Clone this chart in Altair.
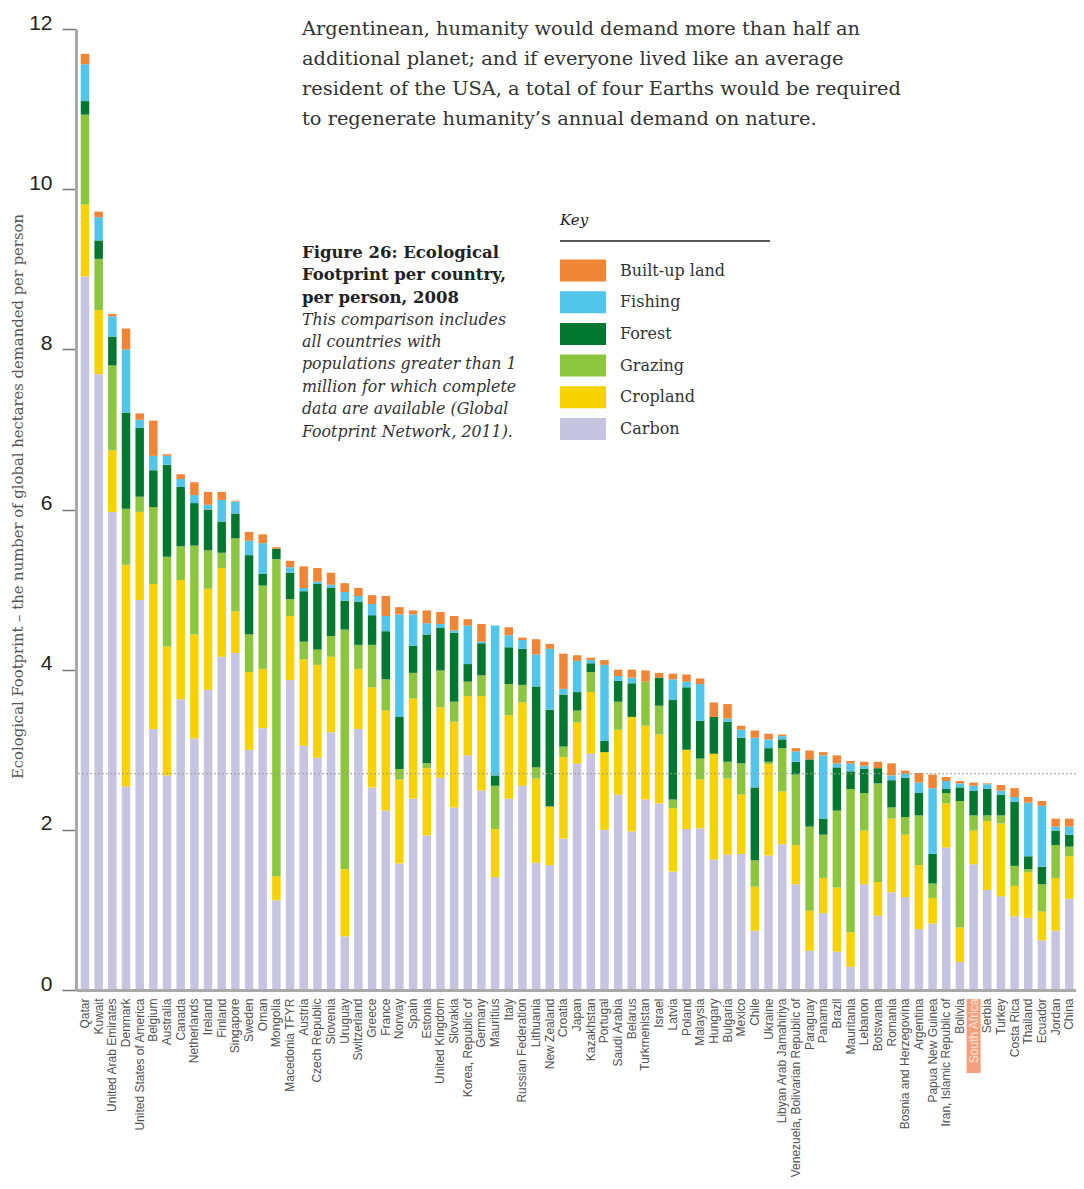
import altair as alt
import pandas as pd

countries = [
    "Qatar", "Kuwait", "United Arab Emirates", "Denmark", "United States of America",
    "Belgium", "Australia", "Canada", "Netherlands", "Ireland", "Finland", "Singapore",
    "Sweden", "Oman", "Mongolia", "Macedonia TFYR", "Austria", "Czech Republic",
    "Slovenia", "Uruguay", "Switzerland", "Greece", "France", "Norway", "Spain",
    "Estonia", "United Kingdom", "Slovakia", "Korea, Republic of", "Germany",
    "Mauritius", "Italy", "Russian Federation", "Lithuania", "New Zealand", "Croatia",
    "Japan", "Kazakhstan", "Portugal", "Saudi Arabia", "Belarus", "Turkmenistan",
    "Israel", "Latvia", "Poland", "Malaysia", "Hungary", "Bulgaria", "Mexico", "Chile",
    "Ukraine", "Libyan Arab Jamahiriya", "Venezuela, Bolivarian Republic of",
    "Paraguay", "Panama", "Brazil", "Mauritania", "Lebanon", "Botswana", "Romania",
    "Bosnia and Herzegovina", "Argentina", "Papua New Guinea",
    "Iran, Islamic Republic of", "Bolivia", "South Africa", "Serbia", "Turkey",
    "Costa Rica", "Thailand", "Ecuador", "Jordan", "China",
]

carbon = [8.91, 7.69, 5.97, 2.54, 4.87, 3.26, 2.68, 3.63, 3.14, 3.75,
          4.16, 4.21, 3.00, 3.27, 1.12, 3.87, 3.05, 2.90, 3.22, 0.67,
          3.26, 2.53, 2.24, 1.58, 2.39, 1.93, 2.65, 2.28, 2.93, 2.49,
          1.41, 2.39, 2.55, 1.59, 1.56, 1.89, 2.83, 2.95, 2.00, 2.44,
          1.98, 2.38, 2.33, 1.48, 2.01, 2.02, 1.63, 1.69, 1.70, 0.74,
          1.68, 1.82, 1.32, 0.49, 0.96, 0.48, 0.29, 1.32, 0.93, 1.22,
          1.16, 0.76, 0.83, 1.78, 0.35, 1.57, 1.25, 1.17, 0.92, 0.90,
          0.62, 0.74, 1.14]
cropland = [0.90, 0.80, 0.77, 2.77, 1.10, 1.81, 1.61, 1.49, 1.30, 1.26,
            1.11, 0.52, 0.97, 0.74, 0.30, 0.80, 1.08, 1.16, 0.94, 0.84,
            0.75, 1.25, 1.25, 1.05, 1.25, 0.84, 0.88, 1.07, 0.74, 1.18,
            0.60, 1.04, 1.04, 1.05, 0.73, 1.02, 0.51, 0.77, 0.97, 0.81,
            1.43, 0.92, 0.86, 0.79, 0.99, 0.61, 1.32, 0.95, 0.74, 0.55,
            1.14, 0.66, 0.49, 0.50, 0.44, 0.80, 0.43, 0.67, 0.42, 0.92,
            0.78, 0.80, 0.32, 0.55, 0.43, 0.42, 0.86, 0.91, 0.38, 0.57,
            0.36, 0.66, 0.53]
grazing = [1.12, 0.64, 1.06, 0.70, 0.19, 0.96, 1.12, 0.42, 1.11, 0.48,
           0.19, 0.91, 0.47, 1.04, 3.96, 0.21, 0.22, 0.19, 0.26, 2.99,
           0.30, 0.53, 0.39, 0.13, 0.32, 0.06, 0.46, 0.25, 0.18, 0.26,
           0.54, 0.39, 0.22, 0.14, 0.00, 0.13, 0.15, 0.25, 0.00, 0.35,
           0.00, 0.55, 0.36, 0.11, 0.00, 0.26, 0.00, 0.21, 0.39, 0.33,
           0.03, 0.54, 0.88, 1.05, 0.54, 0.96, 1.79, 0.47, 1.23, 0.14,
           0.22, 0.62, 0.18, 0.13, 1.58, 0.19, 0.07, 0.10, 0.25, 0.04,
           0.34, 0.41, 0.12]
forest = [0.17, 0.23, 0.36, 1.20, 0.86, 0.46, 1.15, 0.74, 0.53, 0.51,
          0.39, 0.31, 0.99, 0.15, 0.13, 0.33, 0.63, 0.82, 0.60, 0.36,
          0.54, 0.37, 0.60, 0.65, 0.34, 1.61, 0.53, 0.86, 0.22, 0.40,
          0.13, 0.46, 0.45, 1.01, 1.21, 0.65, 0.23, 0.11, 0.14, 0.26,
          0.42, 0.00, 0.35, 1.24, 0.78, 0.47, 0.46, 0.50, 0.32, 0.91,
          0.17, 0.11, 0.16, 0.84, 0.20, 0.54, 0.22, 0.30, 0.19, 0.34,
          0.49, 0.28, 0.37, 0.05, 0.17, 0.31, 0.33, 0.26, 0.80, 0.16,
          0.22, 0.18, 0.15]
fishing = [0.46, 0.29, 0.25, 0.79, 0.10, 0.18, 0.11, 0.10, 0.10, 0.06,
           0.27, 0.15, 0.18, 0.38, 0.00, 0.07, 0.04, 0.03, 0.04, 0.11,
           0.07, 0.14, 0.19, 1.28, 0.39, 0.14, 0.05, 0.03, 0.48, 0.02,
           1.87, 0.15, 0.11, 0.40, 0.76, 0.07, 0.39, 0.04, 0.95, 0.06,
           0.07, 0.00, 0.00, 0.26, 0.07, 0.46, 0.00, 0.04, 0.10, 0.62,
           0.11, 0.04, 0.13, 0.00, 0.79, 0.05, 0.10, 0.04, 0.00, 0.06,
           0.05, 0.13, 0.82, 0.10, 0.05, 0.06, 0.06, 0.05, 0.06, 0.67,
           0.76, 0.05, 0.10]
builtup = [0.13, 0.07, 0.03, 0.26, 0.08, 0.44, 0.02, 0.06, 0.16, 0.16,
           0.10, 0.01, 0.11, 0.11, 0.02, 0.08, 0.27, 0.17, 0.15, 0.11,
           0.10, 0.11, 0.25, 0.09, 0.05, 0.16, 0.15, 0.18, 0.08, 0.22,
           0.00, 0.10, 0.03, 0.19, 0.06, 0.44, 0.07, 0.03, 0.06, 0.08,
           0.10, 0.14, 0.06, 0.07, 0.09, 0.07, 0.18, 0.18, 0.05, 0.09,
           0.07, 0.02, 0.04, 0.11, 0.04, 0.10, 0.03, 0.05, 0.08, 0.15,
           0.04, 0.12, 0.17, 0.05, 0.03, 0.04, 0.01, 0.07, 0.11, 0.07,
           0.06, 0.10, 0.10]

stack_components = ["Carbon", "Cropland", "Grazing", "Forest", "Fishing", "Built-up land"]
legend_order = ["Built-up land", "Fishing", "Forest", "Grazing", "Cropland", "Carbon"]
legend_colors = ["#ef8535", "#52c6ea", "#00782f", "#8cc63f", "#f6d200", "#c7c4e2"]

world_average = 2.7
highlight_country = "South Africa"

top_text = ("Argentinean, humanity would demand more than half an\n"
            "additional planet; and if everyone lived like an average\n"
            "resident of the USA, a total of four Earths would be required\n"
            "to regenerate humanity\u2019s annual demand on nature.")
caption_bold = "Figure 26: Ecological\nFootprint per country,\nper person, 2008"
caption_italic = ("This comparison includes\nall countries with\n"
                  "populations greater than 1\nmillion for which complete\n"
                  "data are available (Global\nFootprint Network, 2011).")
y_title = "Ecological Footprint \u2013 the number of global hectares demanded per person"

series = [carbon, cropland, grazing, forest, fishing, builtup]
rows = []
for k, (comp, vals) in enumerate(zip(stack_components, series)):
    for c, v in zip(countries, vals):
        rows.append({"country": c, "component": comp, "order": k, "value": v})
df = pd.DataFrame(rows)

W, H = 1000, 961
xscale = alt.Scale(domain=countries, paddingInner=0.38, paddingOuter=0.265, align=0.657)
x_axis = alt.Axis(
    title=None, labelAngle=270, ticks=False, labelPadding=8, zindex=1,
    labelFont="Liberation Sans", labelFontSize=12, labelLimit=400,
    labelOverlap=False,
    labelColor={"condition": {"test": f"datum.value === '{highlight_country}'",
                              "value": "#fde4d6"}, "value": "#505050"},
    domainColor="#a9a9a9", domainWidth=3,
)

bars = alt.Chart(df).mark_bar().encode(
    x=alt.X("country:N", scale=xscale, axis=x_axis),
    y=alt.Y(
        "value:Q", stack="zero",
        scale=alt.Scale(domain=[0, 12], nice=False),
        axis=alt.Axis(
            values=[0, 2, 4, 6, 8, 10, 12], format="d", grid=False, title=y_title,
            labelFont="Liberation Sans", labelFontSize=21, labelColor="#222222",
            labelPadding=10, labelBaseline="alphabetic",
            tickSize=14, tickWidth=1.5, tickColor="#777777",
            domainColor="#a9a9a9", domainWidth=3,
            titleFont="DejaVu Serif", titleFontSize=14.8, titleFontWeight="normal",
            titleColor="#555555", titleX=-58, titleY=467, titleAlign="center",
            titleBaseline="middle",
        ),
    ),
    color=alt.Color(
        "component:N",
        scale=alt.Scale(domain=legend_order, range=legend_colors),
        legend=alt.Legend(
            title="Key", orient="none", legendX=484, legendY=184,
            padding=0, offset=0,
            symbolType="M-1,-0.7333H2.0667V0.7333H-1Z", symbolSize=900,
            symbolStrokeWidth=0, symbolOpacity=1, rowPadding=5.7,
            labelFont="DejaVu Serif", labelFontSize=16, labelColor="#333333",
            labelOffset=30, labelLimit=300,
            titleFont="DejaVu Serif", titleFontSize=15, titleFontStyle="italic",
            titleFontWeight="normal", titleColor="#222222", titlePadding=27.5,
        ),
    ),
    order=alt.Order("order:Q", sort="ascending"),
)

highlight = alt.Chart(pd.DataFrame({"country": [highlight_country]})).mark_bar(
    color="#f4a07f", width=14
).encode(
    x=alt.X("country:N", scale=xscale, axis=x_axis),
    y=alt.value(H + 9),
    y2=alt.value(H + 83),
)

avg_rule = alt.Chart(pd.DataFrame({"v": [world_average]})).mark_rule(
    color="#9a9a9a", strokeDash=[2, 2], strokeWidth=1
).encode(y=alt.Y("v:Q"))

one = pd.DataFrame({"k": [0]})
para = alt.Chart(one).mark_text(
    align="left", baseline="top", font="DejaVu Serif", fontSize=19.4,
    lineBreak="\n", lineHeight=30, color="#333333",
).encode(x=alt.value(226), y=alt.value(-9), text=alt.value(top_text))

cap_b = alt.Chart(one).mark_text(
    align="left", baseline="top", font="DejaVu Serif", fontSize=16.5, fontWeight="bold",
    lineBreak="\n", lineHeight=22.4, color="#222222",
).encode(x=alt.value(226), y=alt.value(216), text=alt.value(caption_bold))

cap_i = alt.Chart(one).mark_text(
    align="left", baseline="top", font="DejaVu Serif", fontSize=15.8, fontStyle="italic",
    lineBreak="\n", lineHeight=22.4, color="#333333",
).encode(x=alt.value(226), y=alt.value(283.5), text=alt.value(caption_italic))

key_line = alt.Chart(one).mark_rule(color="#222222", strokeWidth=1.5).encode(
    x=alt.value(484), x2=alt.value(694), y=alt.value(212)
)

chart = alt.layer(bars, highlight, avg_rule, para, cap_b, cap_i, key_line).properties(
    width=W, height=H,
    autosize=alt.AutoSizeParams(type="none"),
    padding={"left": 68, "top": 21, "right": 0, "bottom": 190},
).configure_view(stroke=None)

chart.save("out.html", embed_options={"renderer": "svg", "actions": False})
